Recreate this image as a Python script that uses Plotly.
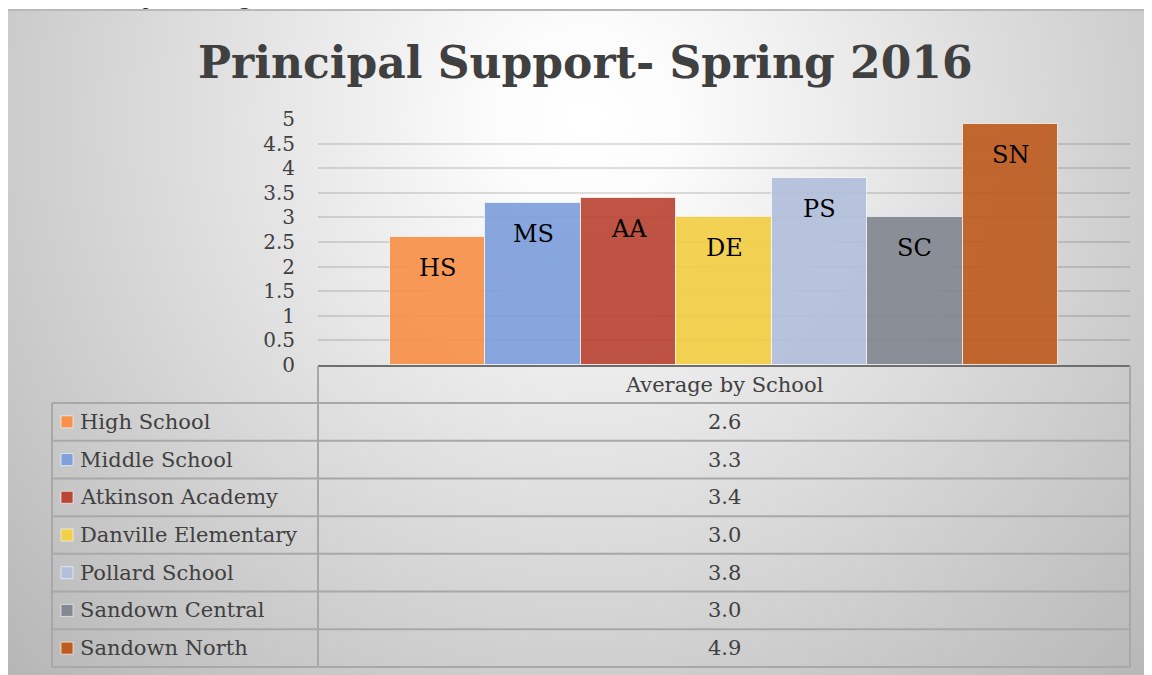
import base64
import plotly.graph_objects as go

# ---------------- data ----------------
codes = ["HS", "MS", "AA", "DE", "PS", "SC", "SN"]
schools = ["High School", "Middle School", "Atkinson Academy", "Danville Elementary",
           "Pollard School", "Sandown Central", "Sandown North"]
values = [2.6, 3.3, 3.4, 3.0, 3.8, 3.0, 4.9]
value_labels = ["2.6", "3.3", "3.4", "3.0", "3.8", "3.0", "4.9"]
colors = ["#F8914A", "#7FA0DC", "#BA4635", "#F3CF45", "#B3C0DC", "#838891", "#BE5C20"]
y_ticks = [0, 0.5, 1, 1.5, 2, 2.5, 3, 3.5, 4, 4.5, 5]
y_tick_text = ["0", "0.5", "1", "1.5", "2", "2.5", "3", "3.5", "4", "4.5", "5"]
title_text = "Principal Support- Spring 2016"
series_name = "Average by School"
top_note = "Elementary Average: 3.7"

# ---------------- geometry helpers (page pixels; page has an 8px body margin) ----------------
OFF = 8
W, H = 1152 - OFF, 675 - OFF
PL, PR, PT, PB = 318, 1130, 119, 365   # plot area in page pixels


def xp(px):
    return (px - PL) / (PR - PL)


def yp(py):
    return (PB - py) / (PB - PT)


FONT = "DejaVu Serif"
TXT = "#404040"

fig = go.Figure()
fig.add_trace(go.Bar(
    x=codes, y=values,
    marker=dict(color=colors, opacity=0.92,
                line=dict(color="rgba(255,255,255,0.7)", width=1)),
    hoverinfo="skip", showlegend=False,
))

annotations = []
# bar labels
for c, v in zip(codes, values):
    annotations.append(dict(x=c, y=v, xref="x", yref="y", text=c, showarrow=False,
                            yshift=-31, font=dict(family=FONT, size=24, color="#000000")))

# title
annotations.append(dict(x=xp(585), y=yp(62), xref="paper", yref="paper", text="<b>" + title_text + "</b>",
                        showarrow=False, xanchor="center", yanchor="middle",
                        font=dict(family=FONT, size=44, color=TXT)))
# cut-off note at very top
annotations.append(dict(x=xp(8), y=yp(12), xref="paper", yref="paper", text=top_note,
                        showarrow=False, xanchor="left", yanchor="bottom",
                        font=dict(family=FONT, size=25, color="#333333")))

# ---------------- data table ----------------
row_top = 403
row_h = (667 - 403) / 7
lc = "#a8a8a8"
shapes = []
shapes.append(dict(type="line", xref="paper", yref="paper", x0=xp(PL), x1=xp(PL), y0=yp(366), y1=yp(667),
                   line=dict(color=lc, width=2)))
shapes.append(dict(type="line", xref="paper", yref="paper", x0=xp(PR), x1=xp(PR), y0=yp(366), y1=yp(667),
                   line=dict(color=lc, width=2)))
shapes.append(dict(type="line", xref="paper", yref="paper", x0=xp(52), x1=xp(52), y0=yp(row_top), y1=yp(667),
                   line=dict(color=lc, width=2)))
for i in range(len(schools) + 1):
    yy = row_top + i * row_h
    shapes.append(dict(type="line", xref="paper", yref="paper", x0=xp(52), x1=xp(PR), y0=yp(yy), y1=yp(yy),
                       line=dict(color=lc, width=2)))
annotations.append(dict(x=xp((PL + PR) / 2), y=yp((366 + row_top) / 2), xref="paper", yref="paper",
                        text=series_name, showarrow=False, xanchor="center", yanchor="middle",
                        font=dict(family=FONT, size=21, color=TXT)))
for i, (s, lab, col) in enumerate(zip(schools, value_labels, colors)):
    cy = row_top + (i + 0.5) * row_h
    shapes.append(dict(type="rect", xref="paper", yref="paper", x0=xp(61), x1=xp(73), y0=yp(cy + 6), y1=yp(cy - 6),
                       fillcolor=col, line=dict(color="rgba(255,255,255,0.6)", width=1)))
    annotations.append(dict(x=xp(78), y=yp(cy), xref="paper", yref="paper", text=s, showarrow=False,
                            xanchor="left", yanchor="middle", font=dict(family=FONT, size=21, color=TXT)))
    annotations.append(dict(x=xp((PL + PR) / 2), y=yp(cy), xref="paper", yref="paper", text=lab,
                            showarrow=False, xanchor="center", yanchor="middle",
                            font=dict(family=FONT, size=21, color=TXT)))

# ---------------- background gradient frame ----------------
FX0, FY0 = 6, 9
fw, fh = 1152 - FX0, 675 - FY0
svg = (
    f"<svg xmlns='http://www.w3.org/2000/svg' width='{fw}' height='{fh}' viewBox='0 0 {fw} {fh}' preserveAspectRatio='none'>"
    "<defs><radialGradient id='g' cx='580' cy='110' r='820' gradientUnits='userSpaceOnUse'>"
    "<stop offset='0' stop-color='#ffffff'/><stop offset='0.12' stop-color='#fbfbfb'/>"
    "<stop offset='1' stop-color='#b4b4b4'/></radialGradient></defs>"
    f"<rect x='0' y='0' width='{fw}' height='{fh}' fill='url(#g)'/>"
    f"<rect x='1' y='1' width='{fw + 10}' height='{fh + 10}' fill='none' stroke='#b8b8b8' stroke-width='2'/>"
    "</svg>"
)
src = "data:image/svg+xml;base64," + base64.b64encode(svg.encode()).decode()

fig.update_layout(
    width=W, height=H,
    margin=dict(l=PL - OFF, r=1152 - PR, t=PT - OFF, b=675 - PB, pad=0),
    paper_bgcolor="#ffffff", plot_bgcolor="rgba(0,0,0,0)",
    bargap=0,
    images=[dict(source=src, xref="paper", yref="paper", x=xp(FX0), y=yp(FY0),
                 sizex=xp(1152) - xp(FX0), sizey=yp(FY0) - yp(675), xanchor="left", yanchor="top",
                 sizing="stretch", layer="below")],
    shapes=shapes, annotations=annotations,
    showlegend=False,
)
fig.update_xaxes(range=[-1.255, 6.5 + 0.755], showticklabels=False, showgrid=False, zeroline=False,
                 showline=True, linecolor="#6e6e6e", linewidth=2, ticks="", fixedrange=True)
fig.update_yaxes(range=[0, 5], tickvals=y_ticks, ticktext=y_tick_text, showgrid=True,
                 gridcolor="rgba(0,0,0,0.12)", gridwidth=2, zeroline=False, showline=False,
                 ticks="", ticklabelstandoff=22, tickfont=dict(family=FONT, size=20, color=TXT),
                 fixedrange=True)

fig.write_html("out.html")
